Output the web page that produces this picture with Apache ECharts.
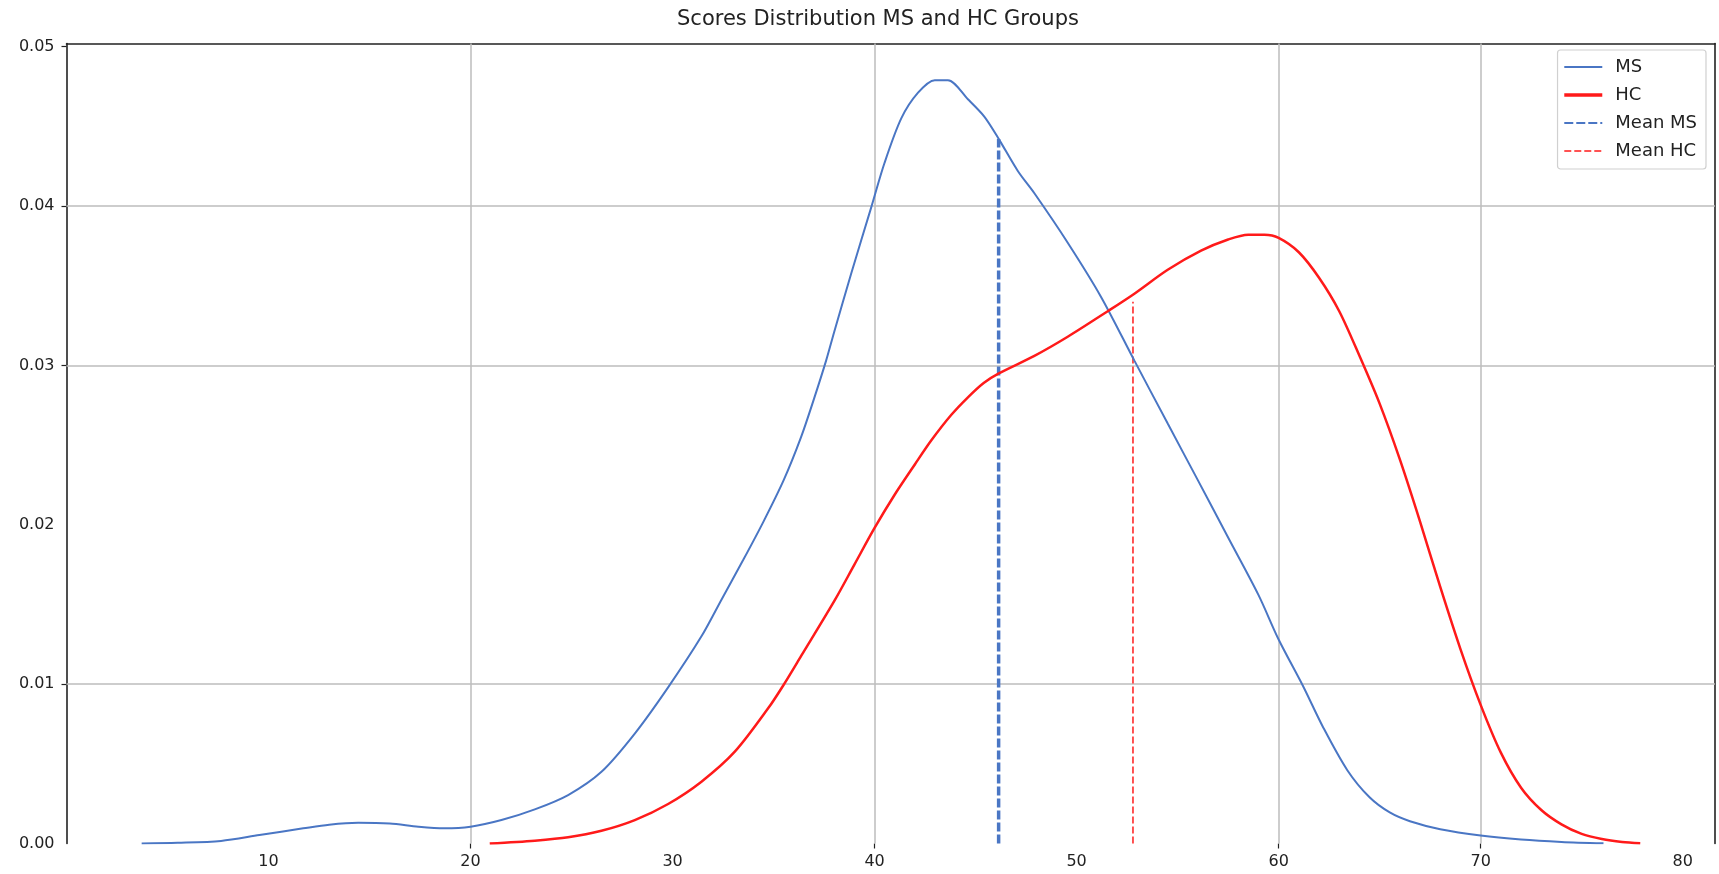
<!DOCTYPE html>
<html>
<head>
<meta charset="utf-8">
<script src="https://cdn.jsdelivr.net/npm/echarts@6/dist/echarts.min.js"></script>
<style>
html,body{margin:0;padding:0;background:#fff;}
#chart{width:1719px;height:874px;}
</style>
</head>
<body>
<div id="chart"></div>
<script>
// ---- data ----
const titleText = "Scores Distribution MS and HC Groups";
const seriesNames = ["MS", "HC", "Mean MS", "Mean HC"];

const msX = [3.72,5.5,7.65,9.55,11.72,13,14.44,16,17.42,18.7,20,21.53,23.18,24.83,26.48,28.13,29.78,31.43,32.42,33.5,34.5,35.5,36.36,37.0,37.6,38.0,38.85,39.83,40.49,41.32,42.14,42.98,43.63,44.62,45.44,46.15,47.09,47.91,49.56,51.21,52.86,54.51,56,57.5,59,60,61.2,62.2,63.4,64.5,65.5,66.5,68,70,72,74,76.08];
const msY = [0,0.00004,0.00016,0.00053,0.00095,0.00118,0.0013,0.00125,0.00105,0.00095,0.00105,0.00147,0.00214,0.00304,0.0045,0.0069,0.0098,0.0130,0.0153,0.0178,0.0202,0.0228,0.0255,0.0279,0.0303,0.0321,0.0358,0.0399,0.0427,0.0455,0.0471,0.0479,0.0479,0.0467,0.0456,0.0442,0.0422,0.0408,0.0377,0.0343,0.0303,0.02635,0.0228,0.0192,0.0156,0.0128,0.0099,0.0073,0.0046,0.0029,0.00195,0.0014,0.0009,0.0005,0.00025,0.0001,0.00001];

const hcX = [20.95,23.18,24.83,26.48,28.13,29.78,31.43,33.08,34.73,35.47,36.38,38.03,39,40,41,42,42.81,43.8,44.62,45.4,46.15,47.91,49.56,51.54,52.86,54.51,56.16,57.5,58.5,59.3,60,61,62,63,64,65,66,67,68,69,70,71,72,73,74,75,76,77,77.9];
const hcY = [0,0.00018,0.00039,0.0008,0.00147,0.00248,0.00388,0.00576,0.00848,0.0099,0.0118,0.01527,0.0175,0.0198,0.0219,0.0238,0.0253,0.0269,0.0280,0.0289,0.0295,0.0306,0.0318,0.0334,0.0345,0.0360,0.0372,0.0379,0.0382,0.0382,0.0380,0.0371,0.0355,0.0334,0.0306,0.0276,0.0241,0.0202,0.0161,0.0122,0.0087,0.0057,0.0035,0.0021,0.0012,0.0006,0.00028,0.0001,0.00002];

const meanMS = 46.14, meanMSTop = 0.0442;
const meanHC = 52.79, meanHCTop = 0.0340;

const xLabelVals = [10,20,30,40,50,60,70,80];
const yLabelVals = [0,0.01,0.02,0.03,0.04,0.05];
const xGridVals = [20,40,60,70];
const yGridVals = [0.01,0.03,0.04];
const xTickVals = [20,40,60,70];
const yTickVals = [0.01,0.03,0.04,0.05];
const xRange = [0.0, 81.6];
const yRange = [0, 0.0502];

// ---- chart ----
const FONT = "DejaVu Sans";
const BLUE = "#4a76c4", RED = "#ff1a1a", AX = "#222";
const zip = (xs, ys) => xs.map((x, i) => [x, ys[i]]);

const chart = echarts.init(document.getElementById('chart'), null, {renderer: 'canvas'});
chart.setOption({
  animation: false,
  backgroundColor: '#ffffff',
  title: {
    text: titleText, left: 677, top: 9, padding: 0,
    textStyle: {fontFamily: FONT, fontSize: 21, fontWeight: 'normal', color: '#222'}
  },
  legend: {
    orient: 'vertical', right: 13, top: 50,
    padding: [8, 9, 9, 5],
    itemWidth: 38, itemHeight: 14, itemGap: 10,
    borderColor: '#d0d0d0', borderWidth: 1.2, borderRadius: 3,
    backgroundColor: 'rgba(255,255,255,0.85)',
    itemStyle: {opacity: 0},
    textStyle: {fontFamily: FONT, fontSize: 18, color: '#222', lineHeight: 17, padding: [0, 0, 0, 8]},
    data: [
      {name: seriesNames[0], lineStyle: {width: 2}},
      {name: seriesNames[1], lineStyle: {width: 3.5}},
      {name: seriesNames[2], lineStyle: {width: 2}},
      {name: seriesNames[3], lineStyle: {width: 1.5}}
    ]
  },
  grid: {left: 66.5, right: 4, top: 43.5, bottom: 30.5, containLabel: false},
  xAxis: [{
    type: 'value', min: xRange[0], max: xRange[1],
    axisLine: {show: false, onZero: false},
    axisTick: {show: true, customValues: xTickVals, length: 5, lineStyle: {color: AX, width: 1.2}},
    axisLabel: {customValues: xLabelVals, margin: 10, fontFamily: FONT, fontSize: 16, color: '#222'},
    splitLine: {show: false}
  }, {
    type: 'value', position: 'top', min: xRange[0], max: xRange[1],
    axisLine: {show: true, onZero: false, lineStyle: {color: AX, width: 1.6}},
    axisTick: {show: false}, axisLabel: {show: false}, splitLine: {show: false}
  }],
  yAxis: [{
    type: 'value', position: 'left', min: yRange[0], max: yRange[1],
    axisLine: {show: true, onZero: false, lineStyle: {color: AX, width: 1.6}},
    axisTick: {show: true, customValues: yTickVals, length: 5, lineStyle: {color: AX, width: 1.2}},
    axisLabel: {customValues: yLabelVals, margin: 12, fontFamily: FONT, fontSize: 16, color: '#222',
      formatter: v => v.toFixed(2)},
    splitLine: {show: false}
  }, {
    type: 'value', position: 'right', min: yRange[0], max: yRange[1],
    axisLine: {show: true, onZero: false, lineStyle: {color: AX, width: 1.6}},
    axisTick: {show: false}, axisLabel: {show: false}, splitLine: {show: false}
  }],
  series: [
    {
      name: '_grid', type: 'line', data: [], z: 1, silent: true,
      markLine: {
        silent: true, symbol: ['none', 'none'], z: 1, animation: false,
        label: {show: false},
        lineStyle: {color: '#bdbdbd', width: 1.5, type: 'solid'},
        data: xGridVals.map(v => ({xAxis: v})).concat(yGridVals.map(v => ({yAxis: v})))
      }
    },
    {
      name: seriesNames[0], type: 'line', data: zip(msX, msY), z: 3,
      symbol: 'none', smooth: 0.3,
      lineStyle: {color: BLUE, width: 2}, itemStyle: {color: BLUE}
    },
    {
      name: seriesNames[1], type: 'line', data: zip(hcX, hcY), z: 3,
      symbol: 'none', smooth: 0.3,
      lineStyle: {color: RED, width: 2.5}, itemStyle: {color: RED}
    },
    {
      name: seriesNames[2], type: 'line', data: [[meanMS, 0], [meanMS, meanMSTop]], z: 2,
      symbol: 'none',
      lineStyle: {color: BLUE, width: 3.5, type: [9, 3]}, itemStyle: {color: BLUE}
    },
    {
      name: seriesNames[3], type: 'line', data: [[meanHC, 0], [meanHC, meanHCTop]], z: 2,
      symbol: 'none',
      lineStyle: {color: RED, width: 1.5, type: [7, 3]}, itemStyle: {color: RED}
    }
  ]
});
</script>
</body>
</html>
